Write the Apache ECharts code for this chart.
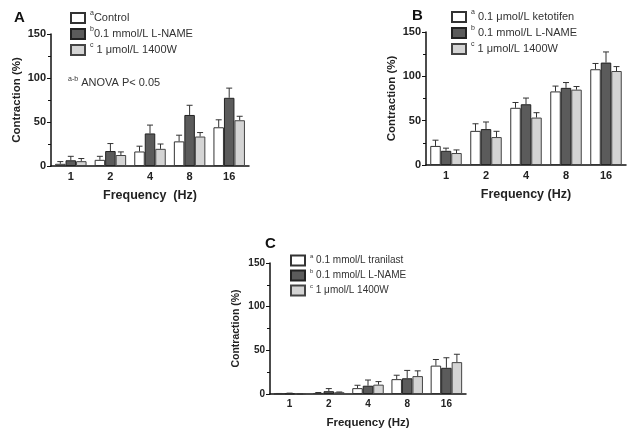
<!DOCTYPE html>
<html>
<head>
    <meta charset="UTF-8">
    <script src="https://cdn.jsdelivr.net/npm/echarts@6/dist/echarts.min.js"></script>
    <style>
        html, body { margin: 0; padding: 0; background: #fff; }
        #main { width: 629px; height: 430px; }
    </style>
</head>
<body>
<div id="main"></div>
<script>
    // x categories (stimulation frequency, Hz)
    var freqs = ['1', '2', '4', '8', '16'];
    var yTicks = [0, 50, 100, 150];

    // panel A: mean and SEM
    var aControl = [2.5, 7, 16.5, 28, 44];
    var aControlErr = [2.5, 4, 6, 7, 8.5];
    var aLname = [6.5, 17, 37, 58, 77.5];
    var aLnameErr = [4.5, 8.5, 9.5, 11, 11];
    var a1400w = [5.5, 12.5, 19.5, 33.5, 52];
    var a1400wErr = [3, 3.5, 5.5, 4.5, 4.5];

    // panel B
    var bKetotifen = [21.5, 38.5, 64.5, 83, 108];
    var bKetotifenErr = [6.5, 8, 6, 6, 6.5];
    var bLname = [16, 40.5, 68.5, 87, 115.5];
    var bLnameErr = [3, 8, 7, 6, 12];
    var b1400w = [13.5, 31.5, 53.5, 85, 106];
    var b1400wErr = [3.5, 6.5, 5.5, 3.5, 5];

    // panel C
    var cTranilast = [0.3, 1.2, 6.7, 17, 32.5];
    var cTranilastErr = [0.3, 0.5, 3.3, 4.5, 7];
    var cLname = [0.5, 3.2, 9.5, 18, 30];
    var cLnameErr = [0.5, 3, 6.5, 9, 11.5];
    var c1400w = [0, 2, 10.7, 20.5, 36.5];
    var c1400wErr = [0, 0.3, 3.5, 6, 9];

    var legendText = {
        A_a: '{sup|a}Control',
        A_b: '{sup|b}0.1 mmol/L L-NAME',
        A_c: '{sup|c} 1 μmol/L 1400W',
        B_a: '{sup|a} 0.1 μmol/L ketotifen',
        B_b: '{sup|b} 0.1 mmol/L L-NAME',
        B_c: '{sup|c} 1 μmol/L 1400W',
        C_a: '{sup|a} 0.1 mmol/L tranilast',
        C_b: '{sup|b} 0.1 mmol/L L-NAME',
        C_c: '{sup|c} 1 μmol/L 1400W'
    };

    var FONT = '"Liberation Sans", Arial, sans-serif';
    var BAR_W = 10.5;
    var fills = ['#ffffff', '#5b5b5b', '#d4d4d4'];
    var borders = ['#333333', '#222222', '#444444'];

    var panels = [
        {key: 'A', grid: {left: 51, top: 34, width: 198, height: 132}, sets: [[aControl, aControlErr], [aLname, aLnameErr], [a1400w, a1400wErr]], xname: 'Frequency  (Hz)', fs: 11},
        {key: 'B', grid: {left: 426, top: 32, width: 200, height: 133}, sets: [[bKetotifen, bKetotifenErr], [bLname, bLnameErr], [b1400w, b1400wErr]], xname: 'Frequency (Hz)', fs: 11},
        {key: 'C', grid: {left: 270, top: 263, width: 196, height: 132}, sets: [[cTranilast, cTranilastErr], [cLname, cLnameErr], [c1400w, c1400wErr]], xname: 'Frequency (Hz)', fs: 10}
    ];

    function errRender(k) {
        return function (params, api) {
            var v = api.value(1), e = api.value(2);
            var p0 = api.coord([api.value(0), v]);
            var p1 = api.coord([api.value(0), v + e]);
            var x = p0[0] + (k - 1) * BAR_W;
            var st = {stroke: '#333', lineWidth: 1};
            return {
                type: 'group',
                children: [
                    {type: 'line', shape: {x1: x, y1: p0[1], x2: x, y2: p1[1]}, style: st},
                    {type: 'line', shape: {x1: x - 3, y1: p1[1], x2: x + 3, y2: p1[1]}, style: st}
                ]
            };
        };
    }

    var grids = [], xAxes = [], yAxes = [], series = [], legends = [], titles = [];
    var legendPos = [{left: 65, top: 5, lh: 16}, {left: 446, top: 4, lh: 16}, {left: 285, top: 248, lh: 15}];
    var titlePos = [{left: 9, top: 5}, {left: 407, top: 3}, {left: 260, top: 231}];

    panels.forEach(function (p, i) {
        grids.push(Object.assign({containLabel: false}, p.grid));
        xAxes.push({
            gridIndex: i, type: 'category', data: freqs,
            axisLine: {lineStyle: {color: '#111', width: 1.5}},
            axisTick: {alignWithLabel: true, length: 4, lineStyle: {color: '#111'}},
            axisLabel: {color: '#222', fontFamily: FONT, fontWeight: 'bold', fontSize: p.fs, margin: 5},
            name: p.xname, nameLocation: 'middle', nameGap: 23,
            nameTextStyle: {color: '#222', fontFamily: FONT, fontWeight: 'bold', fontSize: p.fs + 1.5}
        });
        yAxes.push({
            gridIndex: i, type: 'value', min: yTicks[0], max: yTicks[yTicks.length - 1], interval: 50,
            axisLine: {show: true, lineStyle: {color: '#111', width: 1.5}},
            axisTick: {show: true, length: 4, lineStyle: {color: '#111'}},
            minorTick: {show: true, splitNumber: 2, length: 3, lineStyle: {color: '#111'}},
            splitLine: {show: false},
            axisLabel: {color: '#222', fontFamily: FONT, fontWeight: 'bold', fontSize: p.fs, margin: 5},
            name: 'Contraction (%)', nameLocation: 'middle', nameGap: 28, nameRotate: 90,
            nameTextStyle: {color: '#222', fontFamily: FONT, fontWeight: 'bold', fontSize: p.fs + 0.5}
        });
        var names = [];
        p.sets.forEach(function (s, k) {
            var nm = p.key + '_' + 'abc'[k];
            names.push(nm);
            series.push({
                name: nm, type: 'bar', xAxisIndex: i, yAxisIndex: i,
                data: s[0], barWidth: BAR_W, barGap: '0%',
                itemStyle: {color: fills[k], borderColor: borders[k], borderWidth: 1}
            });
            series.push({
                type: 'custom', xAxisIndex: i, yAxisIndex: i, z: 3,
                renderItem: errRender(k),
                data: s[0].map(function (v, j) { return [j, v, s[1][j]]; })
            });
        });
        legends.push({
            data: names, orient: 'vertical', left: legendPos[i].left, top: legendPos[i].top,
            itemGap: 0, itemWidth: 14, itemHeight: 10, icon: 'rect',
            selectedMode: false,
            formatter: function (n) { return legendText[n]; },
            textStyle: {
                color: '#333', fontFamily: FONT, fontSize: p.fs, lineHeight: legendPos[i].lh,
                rich: {sup: {fontSize: p.fs - 4, fontFamily: FONT, color: '#333', lineHeight: legendPos[i].lh, verticalAlign: 'top'}}
            }
        });
        titles.push({
            text: p.key, left: titlePos[i].left, top: titlePos[i].top,
            textStyle: {fontFamily: FONT, fontWeight: 'bold', fontSize: 15, color: '#111'}
        });
    });

    var myChart = echarts.init(document.getElementById('main'));
    myChart.setOption({
        animation: false,
        backgroundColor: '#fff',
        title: titles,
        legend: legends,
        grid: grids,
        xAxis: xAxes,
        yAxis: yAxes,
        series: series,
        graphic: [{
            type: 'text', left: 68, top: 76,
            style: {
                text: '{sup|a-b} ANOVA P< 0.05',
                font: '11px ' + FONT, fill: '#333', lineHeight: 14,
                rich: {sup: {fontSize: 7, fontFamily: FONT, fill: '#333', lineHeight: 14, verticalAlign: 'top'}}
            }
        }]
    });
</script>
</body>
</html>
